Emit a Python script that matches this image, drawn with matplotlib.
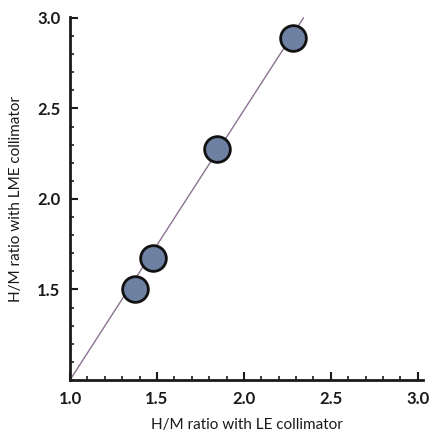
import matplotlib
matplotlib.use("Agg")
import matplotlib.pyplot as plt
import numpy as np
from matplotlib.ticker import MultipleLocator

# Data
le_ratio = [1.374, 1.477, 1.845, 2.280]
lme_ratio = [1.503, 1.674, 2.276, 2.889]
fit_slope = 1.49
x_ticks = [1.0, 1.5, 2.0, 2.5, 3.0]
y_ticks = [1.5, 2.0, 2.5, 3.0]
xlabel = "H/M ratio with LE collimator"
ylabel = "H/M ratio with LME collimator"

plt.rcParams['font.family'] = ['Lato', 'DejaVu Sans']

fig = plt.figure(figsize=(4.33, 4.34), dpi=100)
ax = fig.add_axes([70/433, 1-380/434, (423-70)/433, (380-17)/434])

xmax_line = 1 + (3.0 - 1) / fit_slope
xl = np.array([1.0, xmax_line])
ax.plot(xl, 1 + fit_slope * (xl - 1), color='#8a7390', lw=1.0, zorder=2)
ax.plot(le_ratio, lme_ratio, 'o', ms=18.5, mfc='#6e81a2', mec='#111111', mew=2.0, zorder=3, clip_on=False)

ax.set_xlim(1.0, 3.03)
ax.set_ylim(1.0, 3.005)
ax.spines['top'].set_visible(False)
ax.spines['right'].set_visible(False)
for s in ['left', 'bottom']:
    ax.spines[s].set_linewidth(2.0)
    ax.spines[s].set_color('#1a1a1a')

ax.set_xticks(x_ticks)
ax.set_xticklabels([f"{v:.1f}" for v in x_ticks])
ax.set_yticks(y_ticks)
ax.set_yticklabels([f"{v:.1f}" for v in y_ticks])
ax.xaxis.set_minor_locator(MultipleLocator(0.1))
ax.yaxis.set_minor_locator(MultipleLocator(0.1))
ax.tick_params(which='major', direction='in', length=6, width=1.5, color='#1a1a1a',
               labelsize=12, pad=8)
ax.tick_params(which='minor', direction='in', length=3, width=1.2, color='#1a1a1a')
ax.tick_params(axis='y', which='major', pad=7)
for lab in ax.get_xticklabels() + ax.get_yticklabels():
    lab.set_fontweight('bold')
    lab.set_color('#1a1a1a')

ax.set_xlabel(xlabel, fontsize=11, color='#1a1a1a', labelpad=8)
ax.set_ylabel(ylabel, fontsize=11, color='#1a1a1a')
ax.yaxis.set_label_coords(-0.133, 0.5)

fig.savefig("out.png", dpi=100)
